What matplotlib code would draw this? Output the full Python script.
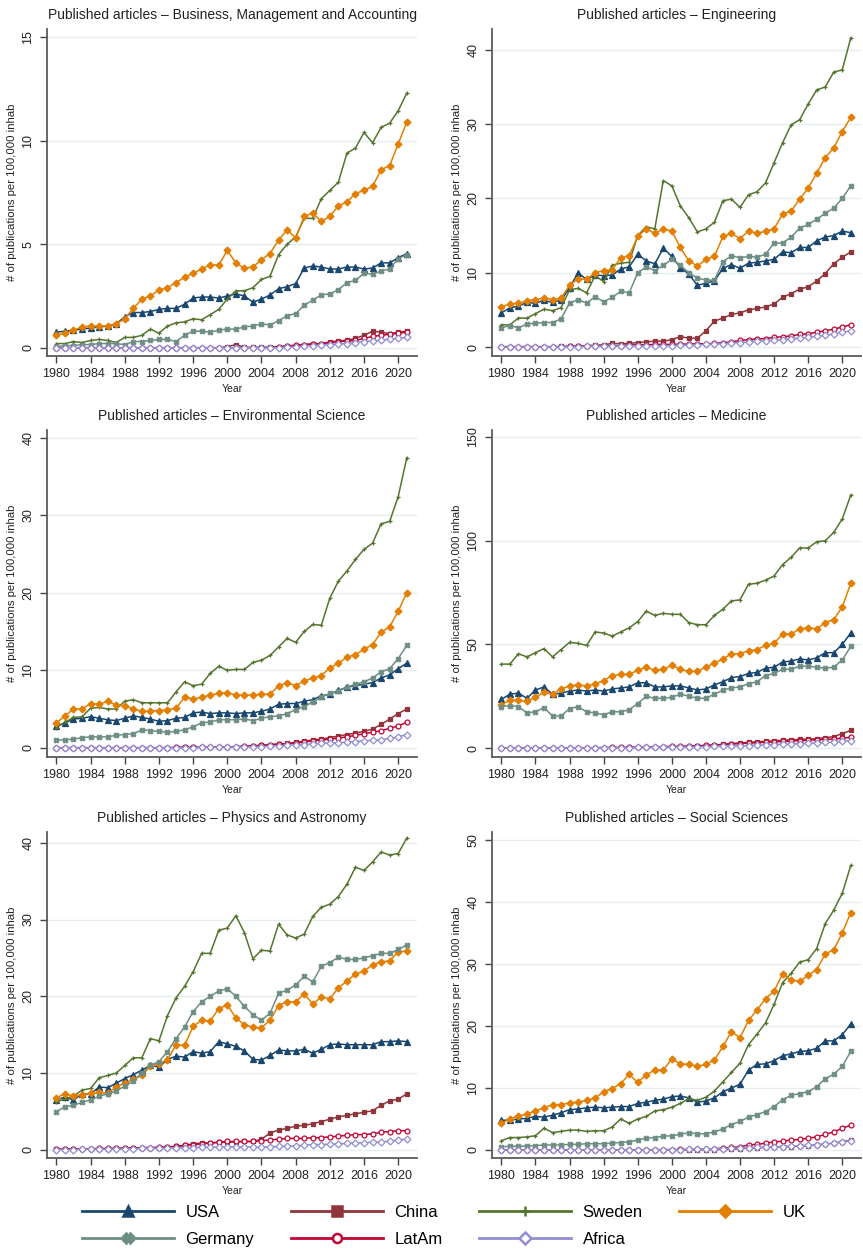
import matplotlib
matplotlib.use("Agg")
import matplotlib.pyplot as plt
from matplotlib.lines import Line2D

plt.rcParams["font.family"] = ["Liberation Sans", "DejaVu Sans"]

years = list(range(1980, 2022))

# --- Business, Management and Accounting ---
usa_bus = [0.75, 0.8, 0.85, 0.9, 0.95, 1.0, 1.05, 1.15, 1.5, 1.7,
           1.7, 1.75, 1.85, 1.9, 1.9, 2.1, 2.4, 2.45, 2.45, 2.4,
           2.5, 2.6, 2.5, 2.2, 2.35, 2.55, 2.85, 2.95, 3.1, 3.85,
           3.95, 3.9, 3.8, 3.8, 3.9, 3.9, 3.8, 3.85, 4.1, 4.1,
           4.35, 4.55]
china_bus = [0.0, 0.0, 0.0, 0.0, 0.0, 0.0, 0.0, 0.0, 0.0, 0.0,
             0.0, 0.0, 0.0, 0.0, 0.0, 0.0, 0.0, 0.0, 0.0, 0.0,
             0.05, 0.15, 0.02, 0.02, 0.03, 0.03, 0.05, 0.07, 0.1, 0.15,
             0.18, 0.2, 0.28, 0.33, 0.36, 0.45, 0.6, 0.8, 0.75, 0.68,
             0.75, 0.8]
sweden_bus = [0.2, 0.2, 0.3, 0.25, 0.35, 0.4, 0.35, 0.25, 0.5, 0.5,
              0.6, 0.9, 0.7, 1.05, 1.2, 1.25, 1.4, 1.35, 1.6, 1.85,
              2.35, 2.75, 2.75, 2.9, 3.3, 3.45, 4.5, 5.0, 5.35, 6.25,
              6.25, 7.2, 7.6, 8.0, 9.4, 9.65, 10.4, 9.9, 10.65, 10.85,
              11.45, 12.3]
uk_bus = [0.6, 0.7, 0.85, 1.0, 1.05, 1.05, 1.05, 1.15, 1.4, 1.9,
          2.35, 2.5, 2.8, 2.9, 3.15, 3.4, 3.6, 3.8, 4.0, 4.0,
          4.7, 4.1, 3.85, 3.9, 4.25, 4.55, 5.2, 5.7, 5.3, 6.35,
          6.5, 6.1, 6.35, 6.85, 7.05, 7.45, 7.6, 7.8, 8.6, 8.8,
          9.85, 10.9]
germany_bus = [0.05, 0.1, 0.1, 0.15, 0.15, 0.2, 0.2, 0.2, 0.15, 0.3,
               0.3, 0.35, 0.4, 0.4, 0.3, 0.6, 0.8, 0.8, 0.75, 0.85,
               0.9, 0.9, 1.0, 1.05, 1.15, 1.1, 1.3, 1.55, 1.65, 2.05,
               2.3, 2.55, 2.6, 2.8, 3.15, 3.25, 3.6, 3.55, 3.7, 3.8,
               4.3, 4.5]
latam_bus = [0.0, 0.0, 0.0, 0.0, 0.0, 0.0, 0.0, 0.0, 0.0, 0.0,
             0.0, 0.0, 0.0, 0.0, 0.0, 0.0, 0.0, 0.0, 0.0, 0.0,
             0.0, 0.0, 0.0, 0.0, 0.0, 0.0, 0.05, 0.08, 0.12, 0.15,
             0.18, 0.2, 0.25, 0.3, 0.32, 0.35, 0.45, 0.55, 0.6, 0.65,
             0.7, 0.75]
africa_bus = [0.0, 0.0, 0.0, 0.0, 0.0, 0.0, 0.0, 0.0, 0.0, 0.0,
              0.0, 0.0, 0.0, 0.0, 0.0, 0.0, 0.0, 0.0, 0.0, 0.0,
              0.0, 0.0, 0.0, 0.0, 0.0, 0.0, 0.0, 0.02, 0.05, 0.07,
              0.1, 0.12, 0.15, 0.18, 0.2, 0.25, 0.3, 0.33, 0.37, 0.42,
              0.45, 0.5]

# --- Engineering ---
usa_eng = [4.6, 5.3, 5.5, 6.0, 5.9, 6.3, 6.0, 6.3, 8.0, 10.0,
           9.1, 9.7, 9.6, 9.7, 10.5, 10.8, 12.5, 11.6, 11.2, 13.3,
           12.2, 10.7, 9.8, 8.3, 8.6, 8.9, 10.6, 11.1, 10.6, 11.3,
           11.4, 11.6, 11.8, 12.8, 12.7, 13.4, 13.4, 14.3, 14.8, 15.0,
           15.6, 15.4]
china_eng = [0.05, 0.05, 0.05, 0.05, 0.05, 0.05, 0.05, 0.1, 0.1, 0.15,
             0.2, 0.25, 0.3, 0.5, 0.45, 0.5, 0.6, 0.7, 0.8, 0.8,
             1.0, 1.4, 1.2, 1.2, 2.2, 3.5, 3.9, 4.4, 4.6, 5.0,
             5.2, 5.4, 5.8, 6.7, 7.2, 7.8, 8.1, 8.9, 9.9, 11.2,
             12.1, 12.8]
sweden_eng = [3.0, 3.0, 3.9, 3.9, 4.5, 5.1, 4.9, 5.3, 7.7, 7.9,
              7.3, 9.6, 8.8, 11.0, 11.3, 11.4, 15.0, 16.2, 15.9, 22.4,
              21.7, 19.0, 17.4, 15.5, 15.9, 16.8, 19.7, 19.9, 18.8, 20.5,
              20.9, 22.1, 24.8, 27.5, 29.9, 30.6, 32.7, 34.6, 35.0, 37.0,
              37.3, 41.6]
uk_eng = [5.4, 5.8, 5.9, 6.2, 6.4, 6.6, 6.4, 6.6, 8.3, 9.2,
          9.1, 10.0, 10.3, 10.4, 12.0, 12.3, 14.9, 15.9, 15.3, 15.9,
          15.6, 13.4, 11.6, 10.9, 11.8, 12.2, 14.9, 15.3, 14.6, 15.6,
          15.3, 15.6, 15.9, 17.9, 18.3, 19.9, 21.4, 23.4, 25.5, 26.8,
          29.0, 30.9]
germany_eng = [2.6, 2.9, 2.6, 3.1, 3.2, 3.3, 3.3, 3.8, 5.9, 6.4,
               5.9, 6.8, 6.1, 6.7, 7.5, 7.3, 10.0, 10.8, 10.3, 11.0,
               11.8, 11.0, 10.0, 9.3, 9.0, 9.0, 11.5, 12.3, 12.0, 12.2,
               12.1, 12.5, 14.0, 14.0, 14.8, 16.0, 16.5, 17.2, 18.0, 18.7,
               20.0, 21.7]
latam_eng = [0.05, 0.05, 0.05, 0.05, 0.05, 0.05, 0.05, 0.05, 0.1, 0.1,
             0.1, 0.12, 0.15, 0.2, 0.2, 0.3, 0.3, 0.3, 0.35, 0.35,
             0.35, 0.4, 0.4, 0.45, 0.45, 0.5, 0.6, 0.7, 0.9, 1.0,
             1.1, 1.15, 1.3, 1.4, 1.5, 1.7, 1.8, 2.0, 2.2, 2.4,
             2.7, 3.0]
africa_eng = [0.0, 0.0, 0.0, 0.0, 0.0, 0.0, 0.05, 0.05, 0.05, 0.05,
              0.1, 0.1, 0.1, 0.1, 0.15, 0.15, 0.15, 0.15, 0.2, 0.2,
              0.2, 0.25, 0.25, 0.3, 0.35, 0.4, 0.45, 0.55, 0.6, 0.7,
              0.8, 0.85, 0.9, 1.0, 1.1, 1.2, 1.3, 1.45, 1.6, 1.75,
              2.0, 2.2]

# --- Environmental Science ---
usa_env = [2.8, 3.2, 3.7, 3.8, 4.0, 3.8, 3.6, 3.5, 3.8, 4.1,
           3.9, 3.7, 3.4, 3.5, 3.8, 3.9, 4.5, 4.6, 4.4, 4.5,
           4.5, 4.4, 4.5, 4.5, 4.7, 5.0, 5.6, 5.7, 5.7, 6.0,
           6.2, 6.7, 6.9, 7.4, 7.8, 8.0, 8.2, 8.4, 9.0, 9.4,
           10.2, 10.9]
china_env = [0.0, 0.0, 0.0, 0.0, 0.0, 0.0, 0.0, 0.0, 0.0, 0.0,
             0.0, 0.0, 0.0, 0.0, 0.0, 0.05, 0.05, 0.05, 0.05, 0.1,
             0.1, 0.1, 0.15, 0.2, 0.3, 0.4, 0.45, 0.55, 0.7, 0.85,
             1.0, 1.1, 1.3, 1.5, 1.7, 1.9, 2.1, 2.4, 3.0, 3.7,
             4.4, 5.0]
sweden_env = [2.6, 3.3, 3.9, 4.0, 5.1, 5.2, 5.0, 5.0, 6.0, 6.2,
              5.8, 5.8, 5.8, 5.8, 7.2, 8.5, 8.0, 8.2, 9.6, 10.5,
              10.0, 10.1, 10.1, 11.0, 11.3, 11.9, 13.0, 14.1, 13.6, 15.0,
              15.9, 15.8, 19.3, 21.5, 22.8, 24.3, 25.6, 26.4, 28.9, 29.2,
              32.4, 37.4]
uk_env = [3.2, 4.1, 5.0, 5.0, 5.7, 5.6, 6.0, 5.5, 5.4, 5.0,
          4.7, 4.7, 4.8, 4.9, 5.1, 6.5, 6.3, 6.5, 6.8, 7.0,
          7.1, 6.8, 6.8, 6.8, 6.9, 6.9, 8.0, 8.4, 8.0, 8.6,
          9.0, 9.3, 10.3, 10.9, 11.7, 12.0, 12.7, 13.3, 14.9, 15.6,
          17.6, 20.0]
germany_env = [1.0, 1.0, 1.1, 1.3, 1.4, 1.4, 1.4, 1.6, 1.7, 1.8,
               2.3, 2.2, 2.1, 2.0, 2.1, 2.3, 2.7, 3.2, 3.3, 3.6,
               3.6, 3.6, 3.7, 3.5, 3.8, 4.0, 4.1, 4.4, 4.9, 5.3,
               5.9, 6.5, 7.0, 7.3, 7.8, 8.2, 8.5, 9.0, 9.8, 10.2,
               11.5, 13.2]
latam_env = [0.0, 0.0, 0.0, 0.0, 0.0, 0.0, 0.0, 0.0, 0.0, 0.0,
             0.0, 0.0, 0.0, 0.0, 0.05, 0.05, 0.05, 0.05, 0.1, 0.1,
             0.1, 0.15, 0.2, 0.25, 0.3, 0.4, 0.45, 0.5, 0.6, 0.75,
             0.9, 1.0, 1.1, 1.25, 1.4, 1.6, 1.8, 2.0, 2.2, 2.5,
             2.8, 3.3]
africa_env = [0.0, 0.0, 0.0, 0.0, 0.0, 0.0, 0.0, 0.0, 0.0, 0.0,
              0.0, 0.0, 0.0, 0.0, 0.0, 0.0, 0.0, 0.05, 0.05, 0.05,
              0.05, 0.1, 0.1, 0.1, 0.15, 0.2, 0.25, 0.3, 0.35, 0.4,
              0.5, 0.55, 0.6, 0.65, 0.7, 0.8, 0.9, 0.95, 1.0, 1.2,
              1.4, 1.7]

# --- Medicine ---
usa_med = [23.5, 26, 26.5, 24, 28, 29.5, 26, 26.5, 27.5, 28,
           27.5, 28, 27.5, 28.5, 29, 29.5, 31.5, 31.5, 29.5, 29.5,
           30, 30, 29, 28, 28.5, 30.5, 32, 34, 34.5, 36,
           36.5, 38.5, 39, 41.5, 42, 43, 42.5, 43.5, 46, 46,
           50, 55.5]
china_med = [0.1, 0.1, 0.1, 0.1, 0.1, 0.1, 0.1, 0.1, 0.1, 0.1,
             0.15, 0.15, 0.2, 0.2, 0.2, 0.25, 0.3, 0.3, 0.35, 0.4,
             0.5, 0.6, 0.7, 0.8, 1.0, 1.5, 1.8, 2.2, 2.5, 2.8,
             3.0, 3.3, 3.5, 3.8, 4.0, 4.2, 4.3, 4.6, 5.0, 5.5,
             7.0, 8.5]
sweden_med = [40.5, 40.5, 45.5, 44, 46, 48, 44, 47.5, 51, 50.5,
              49.5, 56, 55.5, 54, 56, 58, 61, 66, 64, 65,
              64.5, 64.5, 60.5, 59.5, 59.5, 64, 67, 71, 71.5, 79,
              79.5, 81, 83, 88.5, 92, 96.5, 96.5, 99.5, 100, 104,
              110.5, 122]
uk_med = [21, 23, 23, 22.5, 24.5, 27, 26, 28.5, 30, 30.5,
          30, 31, 32.5, 35, 35.5, 35.5, 37.5, 39, 37.5, 38,
          40, 38, 37, 37, 39, 41, 43, 45.5, 45.5, 47,
          47.5, 49.5, 50.5, 55, 55, 57.5, 58, 57.5, 60.5, 62,
          68, 79.5]
germany_med = [20, 20.5, 20, 17, 17.5, 19.5, 15.5, 15.5, 19, 20,
               17.5, 17, 16, 17.5, 17.5, 18.5, 21.5, 25, 24, 24,
               24.5, 26, 25, 24, 24, 26, 28, 29, 29.5, 31,
               32, 35, 36, 38, 38, 39.5, 39.5, 39, 38.5, 39,
               42.5, 49]
latam_med = [0.1, 0.1, 0.1, 0.1, 0.1, 0.1, 0.1, 0.1, 0.15, 0.15,
             0.2, 0.2, 0.25, 0.3, 0.35, 0.4, 0.45, 0.5, 0.6, 0.7,
             0.8, 0.9, 1.0, 1.1, 1.3, 1.5, 1.7, 1.9, 2.2, 2.4,
             2.6, 2.8, 3.0, 3.2, 3.4, 3.6, 3.8, 4.0, 4.2, 4.4,
             4.8, 5.2]
africa_med = [0.05, 0.05, 0.05, 0.05, 0.05, 0.1, 0.1, 0.1, 0.1, 0.1,
              0.15, 0.15, 0.2, 0.2, 0.2, 0.25, 0.3, 0.3, 0.35, 0.4,
              0.45, 0.5, 0.6, 0.65, 0.7, 0.8, 0.9, 1.0, 1.1, 1.2,
              1.4, 1.5, 1.7, 1.8, 2.0, 2.1, 2.3, 2.5, 2.7, 2.9,
              3.2, 3.6]

# --- Physics and Astronomy ---
usa_phy = [6.5, 6.9, 6.5, 7.3, 7.3, 8.2, 8.1, 8.7, 9.3, 9.8,
           10.4, 11.0, 10.8, 11.8, 12.2, 12.1, 12.8, 12.6, 12.8, 14.1,
           13.8, 13.5, 12.9, 11.8, 11.7, 12.3, 13.0, 12.9, 12.9, 13.1,
           12.6, 13.1, 13.7, 13.8, 13.7, 13.7, 13.7, 13.7, 14.1, 14.1,
           14.2, 14.1]
china_phy = [0.1, 0.1, 0.1, 0.1, 0.15, 0.15, 0.15, 0.2, 0.2, 0.2,
             0.25, 0.25, 0.3, 0.4, 0.45, 0.6, 0.8, 0.9, 0.9, 1.0,
             1.0, 1.05, 1.1, 1.1, 1.4, 2.2, 2.6, 2.8, 3.1, 3.2,
             3.4, 3.7, 4.0, 4.3, 4.5, 4.7, 4.9, 5.1, 5.8, 6.4,
             6.6, 7.3]
sweden_phy = [6.3, 6.6, 7.0, 7.8, 8.0, 9.4, 9.7, 10.0, 11.0, 12.0,
              12.0, 14.5, 14.2, 17.5, 19.8, 21.3, 23.2, 25.6, 25.6, 28.6,
              28.9, 30.5, 28.3, 24.9, 26.0, 25.9, 29.4, 28.0, 27.6, 28.1,
              30.4, 31.6, 32.0, 33.0, 34.6, 36.8, 36.4, 37.5, 38.8, 38.4,
              38.6, 40.6]
uk_phy = [6.8, 7.3, 7.0, 7.2, 7.4, 7.5, 7.4, 8.2, 8.7, 9.2,
          9.7, 10.9, 11.2, 11.7, 13.7, 13.6, 16.1, 16.9, 16.8, 18.4,
          18.9, 17.2, 16.3, 16.0, 15.9, 16.9, 18.8, 19.3, 19.3, 20.3,
          19.0, 19.9, 19.7, 21.1, 22.0, 22.9, 23.3, 24.1, 24.5, 24.6,
          25.8, 25.9]
germany_phy = [5.0, 5.6, 5.8, 6.2, 6.5, 7.0, 7.3, 7.7, 8.3, 9.0,
               10.0, 11.0, 11.5, 12.8, 14.5, 16.0, 18.0, 19.3, 20.0, 20.7,
               21.0, 20.0, 18.7, 17.6, 16.9, 17.8, 20.4, 20.8, 21.5, 22.6,
               21.9, 23.9, 24.4, 25.1, 24.8, 24.8, 25.0, 25.3, 25.6, 25.6,
               26.1, 26.7]
latam_phy = [0.1, 0.1, 0.15, 0.15, 0.15, 0.2, 0.2, 0.2, 0.25, 0.25,
             0.3, 0.3, 0.35, 0.4, 0.45, 0.6, 0.7, 0.8, 0.9, 1.0,
             1.1, 1.1, 1.1, 1.1, 1.2, 1.3, 1.4, 1.5, 1.5, 1.5,
             1.6, 1.6, 1.7, 1.8, 1.9, 2.0, 2.0, 2.1, 2.3, 2.4,
             2.5, 2.5]
africa_phy = [0.05, 0.05, 0.05, 0.1, 0.1, 0.1, 0.1, 0.1, 0.15, 0.15,
              0.2, 0.2, 0.2, 0.25, 0.25, 0.3, 0.3, 0.35, 0.35, 0.4,
              0.4, 0.4, 0.4, 0.4, 0.35, 0.4, 0.45, 0.5, 0.55, 0.6,
              0.7, 0.7, 0.75, 0.8, 0.85, 0.9, 0.95, 1.0, 1.05, 1.15,
              1.3, 1.4]

# --- Social Sciences ---
usa_soc = [4.8, 4.8, 5.0, 5.1, 5.4, 5.3, 5.6, 6.0, 6.5, 6.6,
           6.8, 6.9, 6.8, 6.9, 7.0, 7.0, 7.5, 7.7, 8.0, 8.2,
           8.6, 8.7, 8.4, 7.7, 7.9, 8.4, 9.4, 10.0, 10.6, 12.9,
           13.8, 13.9, 14.4, 15.2, 15.5, 15.9, 16.0, 16.4, 17.6, 17.6,
           18.6, 20.3]
china_soc = [0.0, 0.0, 0.0, 0.0, 0.0, 0.0, 0.0, 0.0, 0.0, 0.0,
             0.0, 0.0, 0.0, 0.0, 0.0, 0.0, 0.0, 0.0, 0.0, 0.0,
             0.02, 0.02, 0.03, 0.03, 0.05, 0.05, 0.08, 0.1, 0.2, 0.3,
             0.35, 0.4, 0.45, 0.5, 0.55, 0.6, 0.7, 0.8, 0.95, 1.1,
             1.3, 1.6]
sweden_soc = [1.5, 2.0, 2.0, 2.1, 2.3, 3.5, 2.8, 3.0, 3.2, 3.2,
              3.0, 3.1, 3.1, 3.7, 5.0, 4.3, 5.0, 5.4, 6.3, 6.5,
              6.9, 7.5, 8.3, 8.0, 8.5, 9.5, 11.0, 12.5, 14.0, 17.0,
              18.7, 20.5, 23.5, 27.0, 28.5, 30.3, 30.7, 32.5, 36.5, 38.7,
              41.4, 45.9]
uk_soc = [4.3, 5.0, 5.5, 5.8, 6.3, 6.8, 7.3, 7.3, 7.6, 7.7,
          8.0, 8.4, 9.4, 9.9, 10.7, 12.2, 10.9, 12.1, 12.9, 12.9,
          14.7, 13.9, 13.8, 13.5, 13.8, 14.5, 16.7, 19.1, 18.1, 20.9,
          22.6, 24.4, 25.6, 28.4, 27.4, 27.2, 28.2, 29.1, 31.6, 32.3,
          35.0, 38.3]
germany_soc = [0.5, 0.6, 0.6, 0.6, 0.7, 0.8, 0.8, 0.8, 0.9, 0.9,
               1.0, 1.0, 1.0, 1.1, 1.2, 1.3, 1.6, 1.9, 2.0, 2.2,
               2.3, 2.5, 2.8, 2.6, 2.6, 2.9, 3.4, 4.1, 4.6, 5.3,
               5.7, 6.2, 7.0, 8.1, 8.8, 9.1, 9.4, 10.2, 11.5, 12.2,
               13.5, 15.9]
latam_soc = [0.0, 0.0, 0.0, 0.0, 0.0, 0.0, 0.0, 0.0, 0.0, 0.0,
             0.0, 0.0, 0.0, 0.0, 0.0, 0.0, 0.02, 0.03, 0.05, 0.05,
             0.05, 0.08, 0.1, 0.1, 0.12, 0.2, 0.3, 0.4, 0.5, 0.8,
             0.9, 1.1, 1.3, 1.4, 1.6, 1.7, 1.9, 2.1, 2.5, 2.9,
             3.5, 4.0]
africa_soc = [0.0, 0.0, 0.0, 0.0, 0.0, 0.0, 0.0, 0.0, 0.0, 0.0,
              0.0, 0.0, 0.0, 0.0, 0.0, 0.0, 0.0, 0.02, 0.02, 0.03,
              0.05, 0.05, 0.08, 0.1, 0.12, 0.15, 0.2, 0.25, 0.3, 0.35,
              0.4, 0.45, 0.5, 0.55, 0.6, 0.7, 0.75, 0.85, 0.95, 1.1,
              1.3, 1.5]

titles = ["Published articles \u2013 Business, Management and Accounting",
          "Published articles \u2013 Engineering",
          "Published articles \u2013 Environmental Science",
          "Published articles \u2013 Medicine",
          "Published articles \u2013 Physics and Astronomy",
          "Published articles \u2013 Social Sciences"]
yticks = [[0, 5, 10, 15], [0, 10, 20, 30, 40], [0, 10, 20, 30, 40],
          [0, 50, 100, 150], [0, 10, 20, 30, 40], [0, 10, 20, 30, 40, 50]]
ylims = [(-0.4, 15.4), (-1.2, 42.8), (-1.2, 41.0),
         (-4.3, 153.4), (-1.05, 41.4), (-1.3, 51.3)]
xtick_years = list(range(1980, 2021, 4))

countries = ["USA", "China", "Sweden", "UK", "Germany", "LatAm", "Africa"]
panel_data = [
    [usa_bus, china_bus, sweden_bus, uk_bus, germany_bus, latam_bus, africa_bus],
    [usa_eng, china_eng, sweden_eng, uk_eng, germany_eng, latam_eng, africa_eng],
    [usa_env, china_env, sweden_env, uk_env, germany_env, latam_env, africa_env],
    [usa_med, china_med, sweden_med, uk_med, germany_med, latam_med, africa_med],
    [usa_phy, china_phy, sweden_phy, uk_phy, germany_phy, latam_phy, africa_phy],
    [usa_soc, china_soc, sweden_soc, uk_soc, germany_soc, latam_soc, africa_soc],
]

# stata s2color-ish styles
styles = {
    "USA":     dict(color="#1a476f", marker="^", mfc="#1a476f"),
    "China":   dict(color="#90353b", marker="s", mfc="#90353b"),
    "Sweden":  dict(color="#55752f", marker="+", mfc="#55752f"),
    "UK":      dict(color="#e37e00", marker="D", mfc="#e37e00"),
    "Germany": dict(color="#6e8e84", marker="X", mfc="#6e8e84"),
    "LatAm":   dict(color="#c10534", marker="o", mfc="white"),
    "Africa":  dict(color="#938dd2", marker="D", mfc="white"),
}
msize = {"USA": 4, "China": 3.5, "Sweden": 3.5, "UK": 3.5,
         "Germany": 3.5, "LatAm": 3.5, "Africa": 3.5}

W, H = 863, 1250
fig = plt.figure(figsize=(W / 100, H / 100), dpi=100)

cols_px = [(47, 417), (492, 861)]
rows_px = [(29, 356), (430, 757), (832, 1158)]

for i in range(6):
    r, c = divmod(i, 2)
    x0, x1 = cols_px[c]
    y0, y1 = rows_px[r]
    ax = fig.add_axes([x0 / W, 1 - y1 / H, (x1 - x0) / W, (y1 - y0) / H])

    for name, vals in zip(countries, panel_data[i]):
        st = styles[name]
        ax.plot(years, vals, color=st["color"], marker=st["marker"],
                mfc=st["mfc"], mec=st["color"], ms=msize[name],
                mew=0.9, lw=1.1)

    ax.set_xlim(1978.9, 2022.2)
    ax.set_ylim(*ylims[i])
    ax.set_yticks(yticks[i])
    ax.set_xticks(xtick_years)
    ax.grid(axis="y", color="#e6edef", lw=1.0)
    ax.set_axisbelow(True)
    for s in ["top", "right"]:
        ax.spines[s].set_visible(False)
    for s in ["left", "bottom"]:
        ax.spines[s].set_color("#5b5b5b")
        ax.spines[s].set_linewidth(1.3)
    ax.tick_params(axis="both", colors="#444444", labelcolor="#222222",
                   length=5, width=1.0, labelsize=9)
    ax.tick_params(axis="y", labelrotation=90, pad=4)
    for lab in ax.get_yticklabels():
        lab.set_va("center")
    ax.set_title(titles[i], fontsize=10, color="#222222", pad=7)
    ax.set_ylabel("# of publications per 100,000 inhab", fontsize=8.2,
                  color="#222222")
    ax.yaxis.set_label_coords(-0.082, 0.5)
    ax.set_xlabel("Year", fontsize=7.5, color="#222222")
    ax.xaxis.set_label_coords(0.5, -0.085)

# legend, column-wise fill order for matplotlib
leg_order = ["USA", "Germany", "China", "LatAm", "Sweden", "Africa", "UK"]
handles = []
for name in leg_order:
    st = styles[name]
    handles.append(Line2D([], [], color=st["color"], marker=st["marker"],
                          mfc=st["mfc"], mec=st["color"], ms=6.5, mew=1.8,
                          lw=2.0))
fig.legend(handles, leg_order, loc="center", ncol=4, frameon=False,
           bbox_to_anchor=(444 / W, 1 - 1226 / H), fontsize=12,
           handlelength=5.5, handletextpad=0.7, columnspacing=2.2,
           labelspacing=0.75)

fig.savefig("out.png", dpi=100)
